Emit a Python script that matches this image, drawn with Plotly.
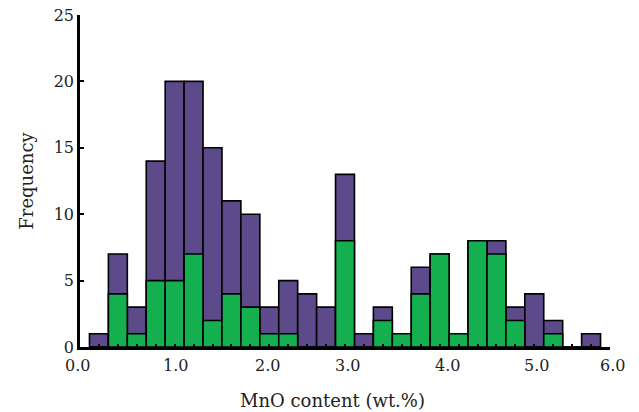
import plotly.graph_objects as go

# Bin centres (wt.%), bin width 0.2
bin_centers = [0.2, 0.4, 0.6, 0.8, 1.0, 1.2, 1.4, 1.6, 1.8, 2.0, 2.2, 2.4, 2.6, 2.8,
               3.0, 3.2, 3.4, 3.6, 3.8, 4.0, 4.2, 4.4, 4.6, 4.8, 5.0, 5.2, 5.4]
total_counts = [1, 7, 3, 14, 20, 20, 15, 11, 10, 3, 5, 4, 3, 13,
                1, 3, 1, 6, 7, 1, 8, 8, 3, 4, 2, 0, 1]
green_counts = [0, 4, 1, 5, 5, 7, 2, 4, 3, 1, 1, 0, 0, 8,
                0, 2, 1, 4, 7, 1, 8, 7, 2, 0, 1, 0, 0]
x_tick_labels = ["0.0", "1.0", "2.0", "3.0", "4.0", "5.0", "6.0"]
y_tick_vals = [0, 5, 10, 15, 20, 25]
x_title = "MnO content (wt.%)"
y_title = "Frequency"

BIN_W = 0.2
PURPLE = "#5c4a8b"
GREEN = "#14b04f"
FONT = "DejaVu Serif"

fig = go.Figure()
fig.add_trace(go.Bar(x=bin_centers, y=total_counts, width=BIN_W,
                     marker=dict(color=PURPLE, line=dict(color="black", width=1.6)),
                     showlegend=False))
fig.add_trace(go.Bar(x=bin_centers, y=green_counts, width=BIN_W,
                     marker=dict(color=GREEN, line=dict(color="black", width=1.6)),
                     showlegend=False))

# x tick-label placement as printed in the original figure (irregular)
ML, MR, W = 80, 28.5, 639
PW = W - ML - MR
label_px = [77.5, 175.7, 268, 348, 448, 536.7, 613]
annotations = []
for txt, px in zip(x_tick_labels, label_px):
    annotations.append(dict(x=(px - ML) / PW, y=0, xref="paper", yref="paper",
                            xanchor="center", yanchor="top", yshift=-7,
                            text=txt, showarrow=False,
                            font=dict(family=FONT, size=16, color="#222")))
annotations.append(dict(x=(333 - ML) / PW, y=0, xref="paper", yref="paper",
                        xanchor="center", yanchor="middle", yshift=-53,
                        text=x_title, showarrow=False,
                        font=dict(family=FONT, size=18, color="#222")))

fig.update_layout(
    barmode="overlay",
    width=639, height=412,
    margin=dict(l=ML, r=MR, t=15, b=65),
    plot_bgcolor="white", paper_bgcolor="white",
    font=dict(family=FONT, size=16, color="#222"),
    annotations=annotations,
    xaxis=dict(range=[0, 5.6], showgrid=False, zeroline=False,
               showline=True, linecolor="black", linewidth=2.5,
               tickmode="array", tickvals=[0.2 + 0.2 * i for i in range(28)],
               ticks="inside", ticklen=3, tickwidth=2, tickcolor="black",
               showticklabels=False, automargin=False),
    yaxis=dict(range=[0, 25], showgrid=False, zeroline=False,
               showline=True, linecolor="black", linewidth=2.5,
               tickvals=y_tick_vals, ticks="inside", ticklen=4, tickwidth=2,
               tickcolor="black", automargin=False,
               tickfont=dict(family=FONT, size=16, color="#222"),
               title=dict(text=y_title, standoff=16,
                          font=dict(family=FONT, size=18, color="#222"))),
)

fig.write_html("out.html")
